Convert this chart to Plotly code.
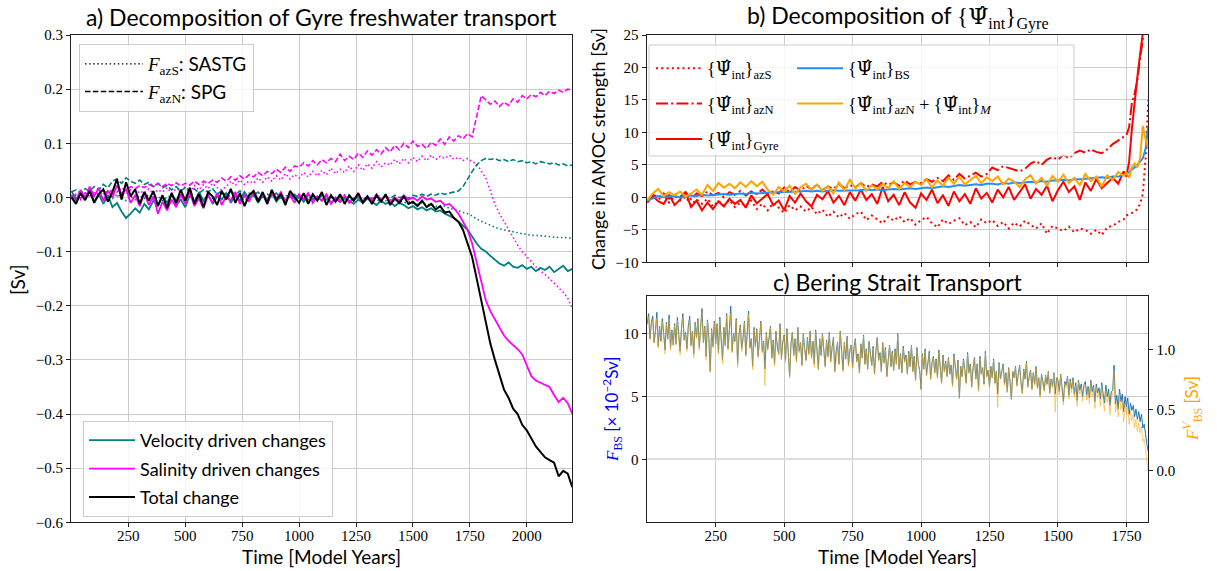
import plotly.graph_objects as go

# ---------------------------------------------------------------------------
# a) Gyre freshwater transport decomposition [Sv], sampled every 20 model years
# ---------------------------------------------------------------------------
YEARS_A = list(range(0, 2201, 20))

# total change (black)
FOV_TOT = [
    0.000, -0.012, 0.008, -0.005, 0.012, -0.010, 0.006, 0.015, -0.008, 0.010,
    0.034, -0.004, 0.028, 0.002, 0.015, -0.012, 0.010, -0.006, 0.012, -0.015,
    0.004, -0.020, 0.008, -0.010, 0.014, -0.006, 0.018, -0.012, 0.006, -0.018,
    0.010, 0.002, -0.014, 0.012, -0.004, 0.016, -0.010, 0.008, -0.016, 0.004,
    0.012, -0.008, 0.010, -0.012, 0.014, -0.004, 0.006, -0.014, 0.012, 0.002,
    -0.010, 0.008, -0.012, 0.006, -0.006, 0.010, -0.014, 0.004, -0.008, 0.006,
    -0.012, 0.004, -0.006, 0.008, -0.010, 0.002, -0.012, 0.004, -0.008, 0.006,
    -0.014, -0.002, -0.010, 0.002, -0.012, -0.008, -0.016, -0.006, -0.018, -0.012,
    -0.022, -0.016, -0.028, -0.026, -0.038, -0.045, -0.060, -0.085, -0.110, -0.150,
    -0.190, -0.230, -0.270, -0.300, -0.330, -0.355, -0.370, -0.390, -0.400, -0.420,
    -0.430, -0.445, -0.460, -0.470, -0.480, -0.485, -0.490, -0.515, -0.505, -0.510,
    -0.535]

# velocity driven changes (teal)
FOV_VEL = [
    0.012, -0.004, 0.010, 0.000, 0.014, -0.008, 0.006, -0.012, 0.004, -0.018,
    -0.010, -0.026, -0.038, -0.030, -0.020, -0.028, -0.012, -0.022, -0.006, -0.016,
    0.002, -0.010, 0.006, -0.014, -0.004, -0.018, 0.004, -0.008, 0.010, -0.006,
    0.006, -0.012, 0.002, -0.004, 0.008, -0.010, 0.004, -0.006, 0.010, -0.002,
    0.006, -0.010, 0.004, -0.004, 0.008, -0.008, 0.002, -0.006, 0.006, -0.002,
    0.004, -0.008, 0.006, -0.004, 0.002, -0.006, 0.004, -0.010, -0.002, -0.008,
    0.000, -0.006, -0.012, -0.004, -0.010, -0.002, -0.008, -0.014, -0.006, -0.012,
    -0.008, -0.016, -0.010, -0.014, -0.020, -0.016, -0.022, -0.018, -0.024, -0.020,
    -0.026, -0.024, -0.030, -0.034, -0.038, -0.045, -0.052, -0.060, -0.072, -0.085,
    -0.095, -0.100, -0.108, -0.115, -0.122, -0.126, -0.120, -0.128, -0.130, -0.125,
    -0.132, -0.128, -0.136, -0.130, -0.134, -0.128, -0.138, -0.132, -0.126, -0.136,
    -0.132]

# salinity driven changes (magenta)
FOV_SAL = [
    0.005, -0.010, 0.014, -0.004, 0.020, 0.002, 0.018, -0.006, 0.012, 0.000,
    0.022, 0.006, 0.016, -0.010, 0.004, -0.016, 0.008, -0.014, 0.002, -0.030,
    -0.008, -0.024, -0.004, -0.018, 0.006, -0.012, 0.010, -0.016, -0.002, -0.020,
    0.004, -0.010, 0.008, -0.014, 0.002, -0.006, 0.010, -0.012, 0.004, -0.008,
    0.012, -0.004, 0.006, -0.012, 0.008, -0.002, 0.010, -0.008, 0.004, -0.010,
    0.006, -0.004, 0.008, -0.010, 0.002, -0.006, 0.006, -0.012, 0.000, -0.008,
    0.004, -0.010, -0.002, 0.004, -0.008, 0.002, -0.006, 0.006, -0.004, 0.002,
    -0.008, 0.000, -0.006, 0.004, -0.004, 0.000, -0.006, 0.002, -0.004, -0.002,
    -0.008, -0.006, -0.014, -0.012, -0.020, -0.030, -0.045, -0.060, -0.085, -0.120,
    -0.160, -0.190, -0.210, -0.225, -0.240, -0.255, -0.265, -0.272, -0.280, -0.290,
    -0.310, -0.330, -0.338, -0.342, -0.345, -0.350, -0.365, -0.378, -0.370, -0.380,
    -0.400]

# F_azS (SASTG) components, dotted
AZS_VEL = [
    0.004, -0.002, 0.006, 0.000, 0.008, 0.002, 0.006, -0.004, 0.004, -0.002,
    0.006, 0.000, -0.006, 0.002, -0.004, 0.004, -0.002, 0.006, -0.004, 0.002,
    -0.006, 0.000, 0.004, -0.004, 0.002, -0.002, 0.004, -0.006, 0.000, -0.004,
    0.002, -0.002, 0.004, -0.004, 0.000, 0.004, -0.002, 0.002, -0.006, 0.000,
    0.002, -0.004, 0.002, -0.002, 0.004, -0.004, 0.000, -0.002, 0.002, -0.004,
    0.000, -0.002, 0.002, -0.004, -0.002, 0.002, -0.004, -0.002, 0.000, -0.004,
    -0.002, -0.006, -0.002, -0.004, -0.006, -0.002, -0.006, -0.004, -0.008, -0.006,
    -0.004, -0.008, -0.006, -0.010, -0.008, -0.010, -0.012, -0.010, -0.014, -0.012,
    -0.016, -0.018, -0.016, -0.020, -0.022, -0.024, -0.028, -0.030, -0.034, -0.040,
    -0.044, -0.048, -0.052, -0.055, -0.058, -0.060, -0.062, -0.064, -0.066, -0.067,
    -0.068, -0.070, -0.070, -0.071, -0.072, -0.073, -0.073, -0.074, -0.074, -0.075,
    -0.075]
AZS_SAL = [
    0.000, 0.006, -0.004, 0.008, 0.002, 0.010, 0.000, 0.006, 0.012, 0.004,
    0.002, 0.010, 0.006, 0.014, 0.004, 0.012, 0.008, 0.016, 0.006, 0.014,
    0.010, 0.018, 0.008, 0.016, 0.012, 0.020, 0.010, 0.022, 0.014, 0.024,
    0.016, 0.026, 0.018, 0.014, 0.020, 0.030, 0.022, 0.032, 0.024, 0.030,
    0.026, 0.036, 0.028, 0.038, 0.030, 0.040, 0.032, 0.044, 0.034, 0.042,
    0.036, 0.046, 0.038, 0.048, 0.040, 0.050, 0.042, 0.054, 0.044, 0.052,
    0.046, 0.058, 0.048, 0.060, 0.050, 0.062, 0.054, 0.066, 0.056, 0.064,
    0.060, 0.070, 0.062, 0.072, 0.064, 0.074, 0.066, 0.076, 0.068, 0.078,
    0.070, 0.076, 0.072, 0.078, 0.070, 0.074, 0.068, 0.072, 0.066, 0.062,
    0.050, 0.036, 0.012, -0.012, -0.030, -0.045, -0.060, -0.075, -0.088, -0.100,
    -0.110, -0.120, -0.128, -0.136, -0.142, -0.150, -0.158, -0.166, -0.175, -0.186,
    -0.205]

# F_azN (SPG) components, dashed
AZN_VEL = [
    0.010, 0.014, 0.008, 0.016, 0.012, 0.020, 0.014, 0.024, 0.018, 0.030,
    0.034, 0.026, 0.036, 0.030, 0.026, 0.032, 0.024, 0.028, 0.020, 0.026,
    0.018, 0.022, 0.014, 0.020, 0.012, 0.018, 0.010, 0.016, 0.008, 0.014,
    0.010, 0.016, 0.006, 0.012, 0.004, 0.010, 0.006, 0.012, 0.002, 0.008,
    0.004, 0.010, 0.000, 0.006, 0.002, 0.008, -0.002, 0.004, 0.000, 0.006,
    -0.002, 0.004, -0.004, 0.002, -0.002, 0.004, -0.004, 0.002, -0.002, 0.000,
    -0.004, 0.002, -0.006, 0.000, -0.004, 0.002, -0.002, 0.000, -0.004, 0.002,
    -0.002, 0.004, 0.000, 0.002, -0.002, 0.004, 0.002, 0.006, 0.002, 0.006,
    0.004, 0.008, 0.006, 0.008, 0.010, 0.012, 0.020, 0.035, 0.048, 0.060,
    0.068, 0.072, 0.070, 0.072, 0.068, 0.070, 0.066, 0.070, 0.066, 0.068,
    0.064, 0.066, 0.062, 0.066, 0.064, 0.062, 0.064, 0.060, 0.062, 0.058,
    0.060]
AZN_SAL = [
    0.000, 0.004, -0.002, 0.008, 0.002, 0.010, 0.006, 0.012, 0.008, 0.014,
    0.010, 0.018, 0.012, 0.020, 0.016, 0.022, 0.018, 0.024, 0.020, 0.026,
    0.020, 0.026, 0.022, 0.027, 0.021, 0.026, 0.023, 0.030, 0.024, 0.030,
    0.026, 0.032, 0.028, 0.036, 0.030, 0.038, 0.032, 0.040, 0.034, 0.042,
    0.038, 0.046, 0.040, 0.048, 0.044, 0.052, 0.046, 0.056, 0.048, 0.058,
    0.056, 0.064, 0.058, 0.068, 0.060, 0.070, 0.064, 0.072, 0.066, 0.080,
    0.068, 0.076, 0.070, 0.082, 0.074, 0.086, 0.078, 0.088, 0.080, 0.092,
    0.084, 0.096, 0.088, 0.100, 0.092, 0.104, 0.094, 0.098, 0.090, 0.102,
    0.096, 0.108, 0.098, 0.112, 0.104, 0.114, 0.108, 0.118, 0.112, 0.150,
    0.188, 0.180, 0.172, 0.178, 0.168, 0.176, 0.170, 0.182, 0.176, 0.188,
    0.182, 0.190, 0.186, 0.194, 0.188, 0.196, 0.192, 0.198, 0.194, 0.200,
    0.198]

# ---------------------------------------------------------------------------
# b) Change in AMOC strength [Sv]; 20-year steps to 1740, then 10-year steps
# ---------------------------------------------------------------------------
YEARS_B = list(range(0, 1741, 20)) + list(range(1750, 1831, 10))

PSI_AZS = [
    -0.6, 0.3, -0.4, 0.5, -0.8, 0.2, -0.5, 0.1, -1.2, -0.3,
    -1.0, -0.2, -1.4, -0.6, -1.2, -0.4, -1.5, -0.8, -1.3, -0.5,
    -1.8, -1.0, -2.0, -0.9, -1.6, -2.4, -1.2, -2.0, -1.4, -2.2,
    -1.5, -2.6, -1.9, -3.0, -2.2, -3.1, -2.4, -3.3, -2.6, -2.2,
    -3.5, -2.8, -3.4, -4.0, -3.0, -3.6, -2.9, -3.8, -3.2, -4.2,
    -3.5, -3.0, -4.0, -4.6, -3.4, -4.1, -3.6, -3.2, -4.3, -3.8,
    -4.6, -3.4, -4.0, -3.5, -4.4, -3.8, -4.8, -3.9, -4.5, -3.6,
    -4.2, -4.8, -4.0, -5.6, -4.4, -4.8, -5.2, -4.5, -5.4, -4.8,
    -5.0, -5.6, -5.0, -5.8, -4.6, -4.4, -3.8, -3.4,
    -2.8, -2.6, -2.4, -2.2, -1.8, -1.0, 0.5, 6.0, 15.0]
PSI_AZN = [
    -0.5, 0.4, 0.0, 0.6, -0.2, 0.5, 0.1, 0.8, -0.3, 0.6,
    0.2, 0.9, 0.3, 0.7, 0.0, 0.8, 0.4, 1.0, 0.3, 0.9,
    0.5, 1.2, 0.4, 1.0, 0.6, 1.5, 0.8, 1.6, 1.0, 1.8,
    1.2, 2.0, 1.1, 1.7, 1.3, 2.1, 1.4, 1.9, 1.5, 2.2,
    1.6, 2.0, 1.7, 2.4, 1.9, 2.3, 1.8, 2.6, 2.0, 2.4,
    2.2, 2.8, 2.4, 3.0, 2.5, 3.4, 2.7, 3.6, 2.9, 3.3,
    3.8, 3.2, 3.6, 4.6, 4.2, 4.8, 4.5, 4.3, 4.0, 4.4,
    5.2, 5.6, 5.0, 5.8, 6.2, 5.8, 6.6, 6.0, 6.8, 7.2,
    6.9, 7.4, 7.0, 6.8, 7.4, 8.2, 8.8, 9.3,
    9.6, 10.8, 14.5, 16.0, 18.0, 21.5, 24.5, 28.0, 30.0]
PSI_GYRE = [
    -0.8, 0.2, -0.6, -1.0, 0.4, -1.2, -0.3, 0.8, -1.5, -0.5,
    -2.0, -0.8, -1.8, -0.6, -1.4, -0.2, -1.0, -0.4, -1.6, 0.3,
    -0.9, -0.2, 0.5, -1.2, -0.5, -2.0, 0.2, -0.8, 0.6, -0.6,
    -1.4, 0.4, -0.3, 1.0, -0.8, 0.2, -1.2, 0.8, -0.5, 1.2,
    -0.4, 0.5, -1.0, 1.6, -0.6, 0.4, -1.2, 0.8, -0.8, -1.6,
    0.6, -0.4, 1.2, -0.9, 0.3, -1.3, 0.9, -0.6, 0.5, -1.0,
    1.4, -0.2, 0.7, -0.8, 1.2, 0.0, 1.6, -0.4, 0.9, 2.0,
    -0.2, 1.3, 0.4, 1.8, -0.6, 1.1, 2.4, 0.8, 1.7, -0.4,
    2.3, 1.0, 2.8, 1.4, 2.2, 3.0, 2.1, 4.0,
    3.2, 5.5, 10.5, 15.0, 18.5, 22.0, 25.5, 29.0, 32.0]
PSI_BS = [
    -0.5, -0.1, 0.2, 0.0, 0.1, 0.2, 0.0, 0.2, 0.3, 0.2,
    0.4, 0.3, 0.4, 0.4, 0.5, 0.4, 0.5, 0.6, 0.5, 0.7,
    0.6, 0.7, 0.7, 0.8, 0.8, 0.8, 0.9, 0.8, 0.9, 1.0,
    0.9, 1.0, 0.9, 1.0, 1.1, 1.0, 1.0, 1.1, 1.0, 1.1,
    1.2, 1.1, 1.2, 1.1, 1.2, 1.3, 1.2, 1.3, 1.4, 1.3,
    1.4, 1.5, 1.4, 1.6, 1.7, 1.6, 1.8, 1.9, 1.8, 1.9,
    2.0, 1.9, 2.1, 2.1, 2.0, 2.2, 2.1, 2.3, 2.2, 2.3,
    2.4, 2.3, 2.5, 2.4, 2.6, 2.6, 2.7, 2.6, 2.8, 2.8,
    2.9, 2.9, 3.0, 3.1, 3.0, 3.2, 3.2, 3.4,
    3.6, 3.9, 4.2, 4.6, 5.0, 5.6, 6.0, 7.5, 11.0]
PSI_AZN_M = [
    -0.5, 0.6, 1.3, 0.2, 0.8, 0.3, 0.9, 0.1, 0.6, 1.2,
    0.4, 1.9, 1.0, 2.2, 1.5, 2.1, 1.4, 2.3, 1.6, 2.5,
    1.7, 2.4, 1.2, 0.4, 1.6, 0.9, 1.8, 0.5, 1.6, 2.1,
    1.2, 2.0, 1.0, 1.7, 0.6, 2.3, 1.1, 2.7, 1.4, 2.2,
    1.0, 1.9, 1.2, 2.1, 1.4, 2.5, 1.3, 2.2, 1.6, 2.4,
    1.9, 2.8, 1.5, 2.6, 1.8, 3.0, 2.1, 3.2, 2.0, 2.7,
    3.3, 2.2, 3.1, 2.5, 3.2, 2.0, 2.9, 2.4, 1.6, 2.8,
    3.4, 2.1, 3.0, 1.8, 3.3, 2.4, 3.5, 2.2, 3.0, 1.9,
    3.6, 2.5, 3.2, 1.6, 3.4, 2.7, 3.9, 3.3,
    3.8, 3.0, 4.6, 5.2, 4.6, 6.0, 11.0, 9.0, 7.5]

# ---------------------------------------------------------------------------
# c) Bering Strait transport, 5-year samples
# ---------------------------------------------------------------------------
YEARS_C = list(range(0, 1831, 5))

# F_BS in units of 1e-2 Sv (left axis)
F_BS = [
    10.8, 11.6, 9.6, 10.9, 11.4, 9.3, 10.2, 11.7, 9.0, 10.6,
    9.4, 11.2, 10.0, 8.7, 10.9, 9.6, 11.5, 8.9, 10.3, 9.1,
    10.8, 9.2, 11.3, 9.8, 8.6, 10.4, 11.6, 9.5, 10.1, 8.8,
    10.6, 11.4, 9.1, 10.2, 8.4, 10.9, 9.7, 11.2, 8.9, 10.5,
    12.0, 9.3, 10.6, 8.2, 11.1, 9.6, 7.0, 10.4, 9.0, 11.0,
    9.2, 10.8, 8.5, 11.3, 9.8, 7.9, 10.5, 9.1, 11.6, 8.8,
    10.3, 12.2, 8.6, 10.0, 9.4, 11.2, 7.6, 9.9, 10.7, 8.8,
    9.7, 11.0, 8.3, 10.2, 11.8, 8.9, 9.6, 7.4, 10.5, 9.0,
    10.4, 8.2, 9.8, 11.0, 8.6, 9.4, 7.2, 10.1, 8.8, 9.6,
    10.6, 8.1, 9.5, 7.6, 10.2, 9.0, 8.4, 10.8, 8.0, 9.3,
    9.9, 7.9, 10.4, 8.5, 6.6, 9.2, 10.1, 8.3, 9.6, 7.8,
    10.5, 8.6, 9.3, 7.5, 10.0, 8.8, 7.9, 9.7, 8.4, 10.2,
    8.1, 9.4, 7.6, 10.3, 8.9, 7.2, 9.6, 8.3, 10.0, 8.7,
    7.4, 9.5, 8.2, 10.1, 7.8, 8.9, 9.7, 7.0, 8.6, 9.3,
    7.6, 10.2, 8.4, 7.1, 9.3, 8.0, 9.8, 7.5, 8.7, 9.1,
    7.3, 8.9, 9.6, 7.8, 8.4, 6.9, 9.2, 8.1, 9.9, 7.6,
    8.8, 7.2, 9.4, 8.3, 7.5, 9.0, 6.8, 8.6, 9.7, 7.9,
    8.5, 7.0, 9.3, 7.7, 8.9, 6.6, 8.2, 9.1, 7.4, 8.6,
    7.1, 8.8, 7.6, 10.0, 7.2, 8.4, 6.9, 9.0, 7.8, 8.3,
    6.8, 8.6, 7.4, 9.1, 7.0, 8.2, 6.3, 8.9, 7.6, 7.1,
    5.6, 8.4, 7.2, 8.8, 6.7, 7.9, 8.6, 6.4, 7.7, 8.2,
    6.9, 8.0, 6.5, 8.7, 7.3, 6.1, 8.3, 7.0, 7.8, 6.6,
    8.1, 6.8, 7.5, 5.9, 8.4, 7.1, 6.4, 7.9, 4.9, 7.4,
    6.6, 8.0, 7.2, 6.1, 8.5, 6.9, 7.6, 5.8, 7.3, 8.1,
    6.4, 7.6, 5.5, 8.2, 6.8, 7.3, 6.0, 8.6, 6.6, 7.1,
    5.8, 7.4, 6.5, 8.0, 6.1, 7.0, 5.2, 7.7, 6.4, 6.9,
    7.6, 6.0, 6.9, 5.4, 7.3, 6.2, 4.8, 7.0, 6.5, 7.4,
    5.9, 6.8, 7.5, 6.1, 5.3, 7.2, 6.4, 7.8, 5.8, 6.6,
    7.1, 5.6, 6.9, 6.0, 7.4, 5.7, 6.5, 5.1, 6.8, 6.2,
    5.5, 6.7, 6.0, 7.0, 5.3, 6.4, 5.8, 6.9, 5.2, 6.5,
    6.3, 5.4, 6.8, 5.7, 4.6, 6.2, 5.9, 6.6, 5.1, 6.4,
    5.6, 6.5, 5.2, 6.1, 4.7, 6.3, 5.5, 6.0, 5.0, 5.9,
    6.2, 5.1, 5.8, 4.9, 6.3, 5.4, 5.9, 4.6, 6.0, 5.3,
    5.7, 4.8, 6.1, 5.2, 4.5, 5.9, 5.0, 5.6, 4.3, 5.4,
    5.5, 7.5, 4.4, 5.1, 4.0, 5.6, 4.6, 5.2, 3.8, 5.0,
    4.2, 4.9, 3.6, 4.5, 3.9, 4.3, 3.4, 4.0, 3.2, 3.8,
    3.0, 3.6, 2.5, 2.8, 1.9, 1.2, 0.6]

# F^V_BS in Sv (right axis)
FV_BS = [
    1.20, 1.27, 1.08, 1.21, 1.24, 1.05, 1.14, 1.26, 1.01, 1.18,
    1.06, 1.23, 1.12, 0.96, 1.21, 1.08, 1.25, 0.99, 1.15, 1.03,
    1.20, 1.03, 1.24, 1.10, 0.95, 1.16, 1.27, 1.07, 1.13, 0.98,
    1.18, 1.25, 1.02, 1.14, 0.93, 1.21, 1.09, 1.24, 0.99, 1.17,
    1.31, 1.05, 1.18, 0.91, 1.23, 1.08, 0.81, 1.16, 1.01, 1.22,
    1.04, 1.20, 0.96, 1.25, 1.10, 0.88, 1.17, 1.02, 1.28, 0.99,
    1.15, 1.30, 0.97, 1.12, 1.06, 1.24, 0.85, 1.11, 1.19, 0.98,
    1.09, 1.22, 0.94, 1.14, 1.29, 1.00, 1.08, 0.83, 1.17, 1.01,
    1.16, 0.93, 1.10, 1.22, 0.97, 1.06, 0.70, 1.13, 0.99, 1.08,
    1.18, 0.92, 1.07, 0.86, 1.14, 1.01, 0.95, 1.20, 0.91, 1.05,
    1.11, 0.89, 1.16, 0.96, 0.76, 1.04, 1.13, 0.94, 1.08, 0.89,
    1.17, 0.97, 1.05, 0.86, 1.12, 0.99, 0.90, 1.09, 0.95, 1.14,
    0.92, 1.06, 0.85, 1.15, 1.00, 0.83, 1.08, 0.94, 1.12, 0.98,
    0.85, 1.07, 0.93, 1.13, 0.89, 1.00, 1.09, 0.81, 0.97, 1.05,
    0.87, 1.14, 0.95, 0.81, 1.05, 0.91, 1.10, 0.86, 0.98, 1.03,
    0.84, 1.00, 1.08, 0.89, 0.95, 0.80, 1.04, 0.92, 1.11, 0.87,
    0.99, 0.83, 1.06, 0.94, 0.86, 1.01, 0.79, 0.97, 1.09, 0.90,
    0.96, 0.81, 1.05, 0.88, 1.00, 0.77, 0.93, 1.03, 0.85, 0.97,
    0.82, 0.99, 0.87, 1.12, 0.83, 0.95, 0.80, 1.01, 0.89, 0.94,
    0.79, 0.97, 0.85, 1.03, 0.81, 0.93, 0.74, 1.00, 0.87, 0.82,
    0.66, 0.95, 0.83, 0.99, 0.78, 0.90, 0.97, 0.75, 0.88, 0.93,
    0.80, 0.91, 0.76, 0.98, 0.84, 0.71, 0.94, 0.81, 0.89, 0.77,
    0.92, 0.79, 0.86, 0.69, 0.95, 0.82, 0.75, 0.90, 0.59, 0.85,
    0.77, 0.91, 0.83, 0.71, 0.96, 0.80, 0.87, 0.68, 0.84, 0.92,
    0.75, 0.87, 0.65, 0.93, 0.79, 0.84, 0.70, 0.97, 0.77, 0.82,
    0.68, 0.85, 0.76, 0.91, 0.71, 0.81, 0.52, 0.88, 0.75, 0.80,
    0.87, 0.70, 0.80, 0.64, 0.84, 0.72, 0.58, 0.81, 0.76, 0.85,
    0.69, 0.79, 0.86, 0.71, 0.63, 0.83, 0.75, 0.89, 0.68, 0.77,
    0.82, 0.66, 0.80, 0.70, 0.85, 0.67, 0.76, 0.60, 0.79, 0.72,
    0.65, 0.78, 0.70, 0.81, 0.63, 0.75, 0.68, 0.80, 0.48, 0.76,
    0.73, 0.62, 0.79, 0.66, 0.54, 0.72, 0.68, 0.77, 0.59, 0.74,
    0.64, 0.75, 0.60, 0.70, 0.53, 0.73, 0.63, 0.69, 0.57, 0.68,
    0.71, 0.58, 0.67, 0.55, 0.73, 0.61, 0.68, 0.51, 0.69, 0.60,
    0.65, 0.53, 0.70, 0.58, 0.49, 0.67, 0.56, 0.63, 0.46, 0.61,
    0.62, 0.82, 0.48, 0.56, 0.44, 0.63, 0.50, 0.57, 0.40, 0.55,
    0.46, 0.53, 0.38, 0.49, 0.41, 0.46, 0.35, 0.42, 0.32, 0.39,
    0.31, 0.36, 0.24, 0.26, 0.15, 0.06, -0.02]

# ---------------------------------------------------------------------------
W, H = 1217, 571
SANS = "Lato"
SERIF = "Liberation Serif"
TEAL, MAGENTA = "#008080", "#ff00ff"
RED, BS_BLUE, SUM_ORANGE = "#ff0000", "#1e90ff", "#ffa500"
C_BLUE, C_ORANGE = "#1f77b4", "rgba(255,165,0,0.55)"
LEGEND_BG = "rgba(255,255,255,0.8)"
LEGEND_EDGE = "#cccccc"


def px(x):
    return x / W


def py(y):
    return 1 - y / H


def serif(t):
    return f'<span style="font-family:{SERIF}">{t}</span>'


def psi(sub):
    hat = '<span style="font-family:DejaVu Serif">\u03a8\u0302</span>'
    return "{" + hat + "<sub>int</sub>}<sub>" + sub + "</sub>"


DOT_A = "1.5px,2.6px"
DASH_A = "5.5px,2.4px"
DOT_B = "2px,3.3px"
DASHDOT_B = "12px,3.2px,2px,3.2px"

fig = go.Figure()

# --- panel a --------------------------------------------------------------
for ys, col, dash in [
    (AZS_VEL, TEAL, DOT_A), (AZS_SAL, MAGENTA, DOT_A),
    (AZN_VEL, TEAL, DASH_A), (AZN_SAL, MAGENTA, DASH_A),
]:
    fig.add_trace(go.Scatter(x=YEARS_A, y=ys, mode="lines", showlegend=False,
                             line=dict(color=col, width=1.6, dash=dash),
                             xaxis="x", yaxis="y"))

for ys, col, name, w in [
    (FOV_VEL, TEAL, "Velocity driven changes", 1.8),
    (FOV_SAL, MAGENTA, "Salinity driven changes", 1.8),
    (FOV_TOT, "black", "Total change", 2.0),
]:
    fig.add_trace(go.Scatter(x=YEARS_A, y=ys, mode="lines", name=name,
                             legendgroup=name, line=dict(color=col, width=w),
                             legend="legend2", xaxis="x", yaxis="y"))

# line-style key
for name, dash in [(serif("<i>F</i><sub>azS</sub>") + ": SASTG", DOT_A),
                   (serif("<i>F</i><sub>azN</sub>") + ": SPG", DASH_A)]:
    fig.add_trace(go.Scatter(x=[None], y=[None], mode="lines", name=name,
                             legendgroup=name,
                             line=dict(color="black", width=1.4, dash=dash),
                             legend="legend", xaxis="x", yaxis="y"))

# --- panel b --------------------------------------------------------------
b_traces = [
    (PSI_AZS, RED, DOT_B, psi("azS"), "legend3"),
    (PSI_AZN, RED, DASHDOT_B, psi("azN"), "legend3"),
    (PSI_GYRE, RED, "solid", psi("Gyre"), "legend3"),
    (PSI_BS, BS_BLUE, "solid", psi("BS"), "legend4"),
    (PSI_AZN_M, SUM_ORANGE, "solid", psi("azN") + " + " + psi("<i>M</i>"), "legend4"),
]
for ys, col, dash, name, leg in b_traces:
    fig.add_trace(go.Scatter(x=YEARS_B, y=ys, mode="lines", name=name,
                             legendgroup=name, legend=leg,
                             line=dict(color=col, width=2, dash=dash),
                             xaxis="x2", yaxis="y2"))

# --- panel c --------------------------------------------------------------
fig.add_trace(go.Scatter(x=YEARS_C, y=F_BS, mode="lines", showlegend=False,
                         line=dict(color=C_BLUE, width=1), xaxis="x3", yaxis="y3"))
fig.add_trace(go.Scatter(x=YEARS_C, y=FV_BS, mode="lines", showlegend=False,
                         line=dict(color=C_ORANGE, width=1), xaxis="x3", yaxis="y4"))

# --- axes -----------------------------------------------------------------
tickfont = dict(family=SERIF, size=15, color="black")
base = dict(showline=True, linecolor="#222222", linewidth=1.2, mirror=True,
            ticks="outside", ticklen=4, tickcolor="#222222", showgrid=True,
            gridcolor="#cccccc", gridwidth=1, zeroline=False, tickfont=tickfont)
xbase = dict(base, ticklabelstandoff=-4)

X_A = [px(71), px(572.3)]
X_BC = [px(646.7), px(1148.3)]
Y_A = [py(522.3), py(35)]
Y_B = [py(262.3), py(35)]
Y_C = [py(522.3), py(296)]


def legend_box(x, y, gap, size, family=SANS, framed=True, itemwidth=46):
    return dict(x=px(x), y=py(y), xanchor="left", yanchor="top",
                bgcolor=LEGEND_BG if framed else "rgba(0,0,0,0)",
                bordercolor=LEGEND_EDGE, borderwidth=1 if framed else 0,
                tracegroupgap=gap, itemwidth=itemwidth,
                font=dict(family=family, size=size, color="black"))


fig.update_layout(
    width=W, height=H,
    margin=dict(l=0, r=0, t=0, b=0, pad=0, autoexpand=False),
    paper_bgcolor="white", plot_bgcolor="white", hovermode=False,
    xaxis=dict(xbase, domain=X_A, range=[-2, 2200], anchor="y",
               tickvals=[250, 500, 750, 1000, 1250, 1500, 1750, 2000]),
    yaxis=dict(base, domain=Y_A, range=[-0.6, 0.3], anchor="x",
               tickvals=[-0.6, -0.5, -0.4, -0.3, -0.2, -0.1, 0.0, 0.1, 0.2, 0.3],
               tickformat=".1f"),
    xaxis2=dict(xbase, domain=X_BC, range=[-2, 1830], anchor="y2",
                tickvals=[250, 500, 750, 1000, 1250, 1500, 1750],
                showticklabels=False),
    yaxis2=dict(base, domain=Y_B, range=[-10, 25], anchor="x2",
                tickvals=[-10, -5, 0, 5, 10, 15, 20, 25]),
    xaxis3=dict(xbase, domain=X_BC, range=[-2, 1830], anchor="y3",
                tickvals=[250, 500, 750, 1000, 1250, 1500, 1750]),
    yaxis3=dict(base, domain=Y_C, range=[-5, 13], anchor="x3",
                tickvals=[0, 5, 10], zeroline=True, zerolinecolor="#dddddd",
                zerolinewidth=2),
    yaxis4=dict(base, overlaying="y3", side="right", anchor="x3",
                range=[-0.43, 1.44], tickvals=[0.0, 0.5, 1.0],
                tickformat=".1f", showgrid=False, mirror=False),
    legend=legend_box(79, 44, 0, 19, itemwidth=58),
    legend2=legend_box(83, 421, 2, 18),
    legend3=legend_box(651, 50, 9, 18, family=SERIF, framed=False),
    legend4=legend_box(792, 50, 9, 18, family=SERIF, framed=False),
    # shared frame behind the two legend columns of panel b
    shapes=[dict(type="rect", xref="paper", yref="paper",
                 x0=px(649), x1=px(1074), y0=py(156), y1=py(45),
                 fillcolor=LEGEND_BG, line=dict(color=LEGEND_EDGE, width=1),
                 layer="above")],
)

# --- titles and axis labels -----------------------------------------------
ann = []


def label(text, x, y, size, angle=0, color="black", family=SANS):
    ann.append(dict(text=text, x=px(x), y=py(y), xref="paper", yref="paper",
                    showarrow=False, textangle=angle, xanchor="center",
                    yanchor="middle", font=dict(family=family, size=size, color=color)))


label("a) Decomposition of Gyre freshwater transport", 321.7, 17, 23)
label("b) Decomposition of " + serif(psi("Gyre")), 897.5, 17, 23)
label("c) Bering Strait Transport", 897.5, 282, 23)
label("Time [Model Years]", 321.7, 556, 19)
label("Time [Model Years]", 897.5, 556, 19)
label("[Sv]", 18, 280, 19, angle=-90)
label("Change in AMOC strength [Sv]", 598, 149, 18, angle=-90)
label(serif("<i>F</i><sub>BS</sub>") + " [\u00d7 10<sup>\u22122</sup>Sv]",
      612, 409, 17, angle=-90, color="blue")
label(serif("<i>F</i><sup><i>V</i></sup><sub>BS</sub>") + " [Sv]",
      1192, 409, 17, angle=-90, color="orange")

fig.update_layout(annotations=ann)
fig.write_html("out.html")
